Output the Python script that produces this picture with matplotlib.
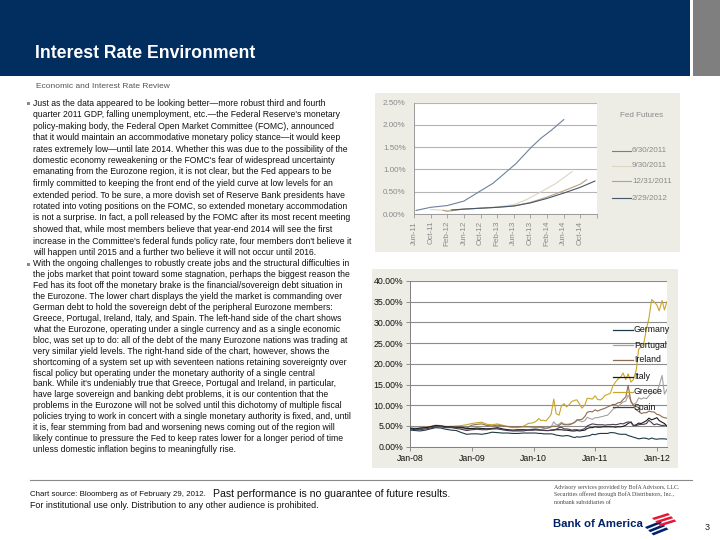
import matplotlib
matplotlib.use('Agg')
import matplotlib.pyplot as plt
from matplotlib.patches import Rectangle, Polygon
from matplotlib.lines import Line2D
import pandas as pd

plt.rcParams['font.family'] = ['Liberation Sans', 'DejaVu Sans']

# ---------------- data: Fed futures (top chart) ----------------
fed_tick_labels = ['Jun-11', 'Oct-11', 'Feb-12', 'Jun-12', 'Oct-12', 'Feb-13',
                   'Jun-13', 'Oct-13', 'Feb-14', 'Jun-14', 'Oct-14']
fed_series = ['6/30/2011', '9/30/2011', '12/31/2011', '2/29/2012']
# x = months after Jun-11, y = implied rate in %
fed_x_0630 = [0.5, 4, 8, 12, 16, 19, 21, 24.5, 28, 30.5, 33, 36]
fed_y_0630 = [0.08, 0.15, 0.19, 0.29, 0.52, 0.69, 0.85, 1.13, 1.48, 1.70, 1.88, 2.12]
fed_x_0930 = [4, 8, 12, 16, 20, 24, 27, 30, 34, 38]
fed_y_0930 = [0.10, 0.08, 0.11, 0.13, 0.16, 0.21, 0.32, 0.47, 0.68, 0.95]
fed_x_1231 = [7, 8, 12, 16, 20, 24, 28, 32, 36, 40, 41.5]
fed_y_1231 = [0.08, 0.06, 0.11, 0.13, 0.15, 0.18, 0.26, 0.38, 0.52, 0.67, 0.77]
fed_x_0229 = [9, 12, 16, 20, 24, 28, 32, 36, 40, 43.5]
fed_y_0229 = [0.09, 0.11, 0.13, 0.15, 0.18, 0.25, 0.35, 0.47, 0.60, 0.74]

# ---------------- data: 10y sovereign yields (bottom chart) ----------------
countries = ['Germany', 'Portugal', 'Ireland', 'Italy', 'Greece', 'Spain']
year_labels = ['Jan-08', 'Jan-09', 'Jan-10', 'Jan-11', 'Jan-12']
# monthly 2008-2009, then 1st & 15th of each month Jan-10..Feb-12, then 29-Feb-12
germany = [4.0, 3.9, 3.8, 4.0, 4.3, 4.6, 4.5, 4.2, 4.0, 3.9, 3.4, 3.0,
           3.1, 3.1, 3.0, 3.2, 3.5, 3.4, 3.3, 3.3, 3.2, 3.2, 3.3, 3.3,
           3.3, 3.3, 3.2, 3.2, 3.1, 3.1, 3.1, 3.1, 3.0, 2.8, 2.7, 2.6,
           2.6, 2.7, 2.6, 2.4, 2.2, 2.4, 2.3, 2.4, 2.5, 2.6, 2.7, 3.0,
           2.9, 3.1, 3.2, 3.2, 3.2, 3.2, 3.4, 3.4, 3.3, 3.1, 3.0, 3.0,
           3.0, 2.7, 2.5, 2.3, 2.1, 1.9, 2.0, 2.1, 2.0, 1.8, 2.1, 1.9,
           1.8, 1.9, 1.9, 1.9, 1.8]
portugal = [4.4, 4.3, 4.3, 4.5, 4.7, 5.0, 4.9, 4.7, 4.7, 4.6, 4.4, 4.1,
            4.3, 4.4, 4.4, 4.3, 4.3, 4.4, 4.1, 4.0, 3.9, 3.9, 4.0, 4.1,
            4.3, 4.4, 4.6, 4.6, 4.4, 4.3, 4.5, 4.8, 6.0, 5.3, 5.4, 5.9,
            5.5, 5.4, 5.5, 5.6, 5.8, 6.3, 6.3, 6.0, 6.3, 7.1, 6.8, 6.6,
            7.0, 7.0, 7.2, 7.3, 7.5, 7.6, 8.3, 9.0, 9.4, 9.6, 10.3, 10.8,
            11.0, 12.5, 11.0, 10.2, 10.6, 11.8, 11.5, 11.8, 11.6, 12.3, 13.0, 13.2,
            13.2, 14.8, 17.2, 12.7, 13.8]
ireland = [4.4, 4.3, 4.4, 4.6, 4.8, 5.1, 5.0, 4.8, 4.8, 4.7, 4.6, 4.5,
           5.2, 5.4, 5.5, 5.1, 5.0, 5.2, 5.0, 4.9, 4.8, 4.8, 4.8, 4.8,
           4.7, 4.7, 4.8, 4.8, 4.6, 4.5, 4.6, 4.8, 5.0, 4.9, 5.1, 5.6,
           5.3, 5.3, 5.3, 5.5, 5.9, 6.5, 6.5, 6.6, 7.3, 8.3, 8.5, 8.4,
           8.9, 8.6, 8.9, 9.1, 9.3, 9.6, 9.9, 10.2, 10.2, 10.6, 10.7, 11.4,
           12.0, 14.8, 10.8, 10.0, 8.9, 8.5, 8.0, 8.2, 8.2, 8.6, 8.4, 8.4,
           7.8, 7.7, 7.2, 7.0, 6.9]
italy = [4.5, 4.3, 4.5, 4.6, 4.8, 5.1, 5.0, 4.8, 4.8, 4.7, 4.7, 4.4,
         4.4, 4.5, 4.4, 4.3, 4.4, 4.6, 4.3, 4.1, 4.0, 4.1, 4.1, 4.0,
         4.1, 4.1, 4.0, 4.0, 4.0, 3.9, 3.9, 4.0, 4.0, 4.1, 4.1, 4.1,
         4.0, 4.0, 3.9, 3.8, 3.8, 3.9, 3.8, 3.9, 4.0, 4.4, 4.6, 4.6,
         4.8, 4.7, 4.7, 4.8, 4.8, 4.8, 4.8, 4.8, 4.7, 4.8, 4.8, 4.9,
         5.2, 5.6, 6.0, 5.1, 5.3, 5.7, 5.6, 5.9, 6.3, 6.9, 6.5, 6.7,
         7.0, 6.3, 5.9, 5.6, 5.0]
greece = [4.5, 4.5, 4.5, 4.7, 4.9, 5.2, 5.1, 4.9, 4.9, 5.0, 5.1, 5.3,
          5.6, 5.8, 5.9, 5.4, 5.3, 5.5, 5.2, 4.8, 4.6, 4.6, 4.9, 5.6,
          5.8, 6.1, 6.8, 6.3, 6.4, 6.2, 7.0, 7.8, 11.5, 8.0, 7.6, 9.8,
          10.4, 9.6, 10.2, 10.9, 11.2, 11.3, 10.2, 9.3, 10.1, 11.7, 11.6, 11.5,
          12.3, 11.4, 11.3, 11.7, 12.4, 12.6, 12.9, 14.6, 15.6, 16.3, 16.8, 17.8,
          16.2, 17.6, 15.6, 16.2, 18.5, 23.5, 24.2, 24.8, 28.6, 31.0, 35.5, 35.0,
          34.2, 32.8, 35.3, 33.0, 35.0]
spain = [4.3, 4.1, 4.1, 4.3, 4.5, 4.8, 4.8, 4.6, 4.6, 4.4, 4.2, 3.9,
         4.1, 4.2, 4.1, 4.1, 4.3, 4.3, 4.1, 3.9, 3.8, 3.8, 3.8, 4.0,
         4.0, 4.1, 4.1, 4.0, 3.9, 3.9, 3.9, 4.0, 4.1, 4.2, 4.6, 4.7,
         4.3, 4.3, 4.2, 4.0, 4.1, 4.1, 4.0, 4.1, 4.4, 5.0, 5.3, 5.5,
         5.4, 5.3, 5.3, 5.3, 5.2, 5.3, 5.3, 5.4, 5.3, 5.4, 5.6, 5.5,
         5.8, 6.0, 5.8, 5.1, 5.1, 5.3, 5.4, 5.4, 5.6, 6.4, 5.8, 5.3,
         5.5, 5.3, 5.1, 5.2, 5.1]

dates = (list(pd.date_range('2008-01-01', '2009-12-01', freq='MS'))
         + list(pd.date_range('2010-01-01', '2012-02-15', freq='SMS'))
         + [pd.Timestamp('2012-02-29')])

# ---------------- text ----------------
para1 = [
    "Just as the data appeared to be looking better\u2014more robust third and fourth",
    "quarter 2011 GDP, falling unemployment, etc.\u2014the Federal Reserve's monetary",
    "policy-making body, the Federal Open Market Committee (FOMC), announced",
    "that it would maintain an accommodative monetary policy stance\u2014it would keep",
    "rates extremely low\u2014until late 2014. Whether this was due to the possibility of the",
    "domestic economy reweakening or the FOMC's fear of widespread uncertainty",
    "emanating from the Eurozone region, it is not clear, but the Fed appears to be",
    "firmly committed to keeping the front end of the yield curve at low levels for an",
    "extended period. To be sure, a more dovish set of Reserve Bank presidents have",
    "rotated into voting positions on the FOMC, so extended monetary accommodation",
    "is not a surprise. In fact, a poll released by the FOMC after its most recent meeting",
    "showed that, while most members believe that year-end 2014 will see the first",
    "increase in the Committee's federal funds policy rate, four members don't believe it",
    "will happen until 2015 and a further two believe it will not occur until 2016.",
]
para2 = [
    "With the ongoing challenges to robustly create jobs and the structural difficulties in",
    "the jobs market that point toward some stagnation, perhaps the biggest reason the",
    "Fed has its foot off the monetary brake is the financial/sovereign debt situation in",
    "the Eurozone. The lower chart displays the yield the market is commanding over",
    "German debt to hold the sovereign debt of the peripheral Eurozone members:",
    "Greece, Portugal, Ireland, Italy, and Spain. The left-hand side of the chart shows",
    "what the Eurozone, operating under a single currency and as a single economic",
    "bloc, was set up to do: all of the debt of the many Eurozone nations was trading at",
    "very similar yield levels. The right-hand side of the chart, however, shows the",
    "shortcoming of a system set up with seventeen nations retaining sovereignty over",
    "fiscal policy but operating under the monetary authority of a single central",
    "bank. While it's undeniably true that Greece, Portugal and Ireland, in particular,",
    "have large sovereign and banking debt problems, it is our contention that the",
    "problems in the Eurozone will not be solved until this dichotomy of multiple fiscal",
    "policies trying to work in concert with a single monetary authority is fixed, and, until",
    "it is, fear stemming from bad and worsening news coming out of the region will",
    "likely continue to pressure the Fed to keep rates lower for a longer period of time",
    "unless domestic inflation begins to meaningfully rise.",
]

W, H = 720, 540
fig = plt.figure(figsize=(7.2, 5.4), dpi=100)


def fx(x):
    return x / W


def fy(y):
    return 1 - y / H


def rect(x0, y0, x1, y1):
    return [x0 / W, 1 - y1 / H, (x1 - x0) / W, (y1 - y0) / H]


def box(x0, y0, x1, y1, color, z=-5):
    fig.add_artist(Rectangle((fx(x0), fy(y1)), (x1 - x0) / W, (y1 - y0) / H,
                             transform=fig.transFigure, facecolor=color,
                             edgecolor='none', zorder=z))


navy = '#022d5f'
beige = '#edece5'

# header
box(0, 0, 690, 76, navy)
box(693, 0, 720, 76, '#7f7f7f')
fig.text(fx(35), fy(54), 'Interest Rate Environment', color='white',
         fontsize=12.7, fontweight='bold', va='center')
fig.text(fx(36), fy(86), 'Economic and Interest Rate Review', color='#555555',
         fontsize=6, va='center')

# body text
y = 103
for i, line in enumerate(para1):
    fig.text(fx(33), fy(y + i * 11.5), line, fontsize=6.2, va='center', color='#111111')
y2 = 264
for i, line in enumerate(para2):
    fig.text(fx(33), fy(y2 + i * 10.9), line, fontsize=6.2, va='center', color='#111111')
for yy in (103, 264):
    box(26.5, yy - 1.5, 29.5, yy + 1.5, '#8a8a8a', z=3)

# ---------------- top chart ----------------
box(375, 93, 680, 252, beige)
ax1 = fig.add_axes(rect(414, 102.7, 597, 214))
ax1.set_facecolor('white')
c_fed = ['#6e819c', '#dcd5c0', '#b9a27c', '#46566c']
fed_xs = [fed_x_0630, fed_x_0930, fed_x_1231, fed_x_0229]
fed_ys = [fed_y_0630, fed_y_0930, fed_y_1231, fed_y_0229]
for xs, ys, c in zip(fed_xs, fed_ys, c_fed):
    ax1.plot(xs, ys, color=c, lw=0.8)
ax1.set_xlim(0, 44)
ax1.set_ylim(0, 2.5)
ax1.set_yticks([0, 0.5, 1.0, 1.5, 2.0, 2.5])
ax1.set_yticklabels(['0.00%', '0.50%', '1.00%', '1.50%', '2.00%', '2.50%'])
ax1.set_xticks([i * 4 for i in range(12)])
ax1.set_xticklabels(fed_tick_labels + [''], rotation=90)
ax1.grid(axis='y', color='#b5b5b5', lw=0.8)
ax1.set_axisbelow(True)
for s in ('top', 'right'):
    ax1.spines[s].set_visible(False)
for s in ('left', 'bottom'):
    ax1.spines[s].set_color('#9a9a9a')
    ax1.spines[s].set_linewidth(0.7)
ax1.tick_params(axis='both', labelsize=5.8, colors='#9a9a9a', labelcolor='#8a8a8a',
                length=3, width=0.6, pad=2)
ax1.tick_params(axis='y', length=0, pad=6)

fig.text(fx(620), fy(115), 'Fed Futures', fontsize=5.8, color='#8a8a8a', va='center')
leg_y = [151, 166, 181, 198]
for lab, c, yy in zip(fed_series, c_fed, leg_y):
    fig.add_artist(Line2D([fx(612), fx(631)], [fy(yy), fy(yy)], color=c, lw=0.8,
                          transform=fig.transFigure))
    fig.text(fx(632), fy(yy), lab, fontsize=5.8, color='#8a8a8a', va='center')

# ---------------- bottom chart ----------------
box(372, 269, 678, 468, beige)
ax2 = fig.add_axes(rect(410, 281, 667, 446.7))
ax2.set_facecolor('white')
c_cty = ['#1d3a48', '#a3a3a3', '#8e6c4e', '#1a1a1a', '#c8a62c', '#4a3a52']
series = [germany, portugal, ireland, italy, greece, spain]
z_order = [3, 2, 2, 3, 1, 3]
for vals, c, z in zip(series, c_cty, z_order):
    ax2.plot(dates, vals, color=c, lw=0.8, zorder=z)
ax2.set_xlim(pd.Timestamp('2008-01-01'), pd.Timestamp('2012-03-01'))
ax2.set_ylim(0, 40)
ax2.set_yticks(range(0, 41, 5))
ax2.set_yticklabels([f'{v:.2f}%' for v in range(0, 41, 5)])
ax2.set_xticks([pd.Timestamp(f'20{y}-01-01') for y in ('08', '09', '10', '11', '12')])
ax2.set_xticklabels(year_labels)
ax2.grid(axis='y', color='#8c8c8c', lw=0.8)
ax2.set_axisbelow(True)
for s in ('top', 'right'):
    ax2.spines[s].set_visible(False)
for s in ('left', 'bottom'):
    ax2.spines[s].set_color('#808080')
    ax2.spines[s].set_linewidth(0.7)
ax2.tick_params(axis='both', labelsize=6.3, colors='#808080', labelcolor='#111111',
                length=3, width=0.6, pad=2)

leg2_y = [330, 345, 360, 376.7, 392, 407]
for lab, c, yy in zip(countries, c_cty, leg2_y):
    fig.add_artist(Line2D([fx(613), fx(633)], [fy(yy), fy(yy)], color=c, lw=0.9,
                          transform=fig.transFigure, zorder=4))
    fig.text(fx(634), fy(yy), lab, fontsize=6.3, color='#111111', va='center', zorder=5)

# ---------------- footer ----------------
fig.add_artist(Line2D([fx(30), fx(692)], [fy(480), fy(480)], color='#8a8a8a', lw=0.8,
                      transform=fig.transFigure))
fig.text(fx(30), fy(494), 'Chart source: Bloomberg as of February 29, 2012.',
         fontsize=5.7, va='center', color='#111111')
fig.text(fx(213), fy(494), 'Past performance is no guarantee of future results.',
         fontsize=7.6, va='center', color='#111111')
fig.text(fx(30), fy(506), 'For institutional use only. Distribution to any other audience is prohibited.',
         fontsize=6.4, va='center', color='#111111')
small = ['Advisory services provided by BofA Advisors, LLC.',
         'Securities offered through BofA Distributors, Inc.,',
         'nonbank subsidiaries of']
for i, s in enumerate(small):
    fig.text(fx(554), fy(487 + i * 7.5), s, fontsize=4.2, color='#444444', va='center',
             family=['Liberation Serif', 'DejaVu Serif'])
fig.text(fx(553), fy(524), 'Bank of America', fontsize=8.2, fontweight='bold',
         color='#012169', va='center')
# flag logo
for k in range(3):
    off = k * 3.2
    fig.add_artist(Polygon([(fx(652 + off), fy(518 + off)), (fx(668 + off), fy(513 + off)),
                            (fx(670 + off), fy(515 + off)), (fx(654 + off), fy(520 + off))],
                           closed=True, transform=fig.transFigure, color='#e31837', lw=0))
    fig.add_artist(Polygon([(fx(645 + off), fy(527 + off)), (fx(660 + off), fy(521 + off)),
                            (fx(662 + off), fy(523 + off)), (fx(647 + off), fy(529 + off))],
                           closed=True, transform=fig.transFigure, color='#012169', lw=0))
fig.text(fx(705), fy(527), '3', fontsize=6.5, color='#222222', va='center')

fig.savefig('out.png', dpi=100)
